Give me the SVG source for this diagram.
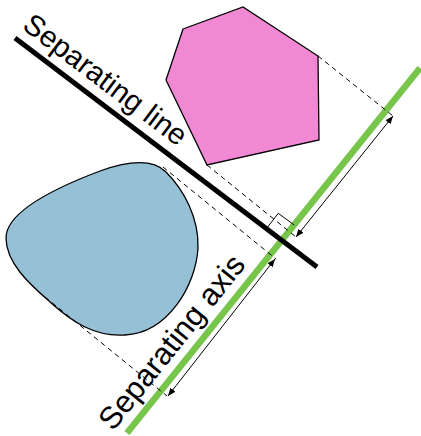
<svg xmlns="http://www.w3.org/2000/svg" width="421" height="436" viewBox="0 0 421 436">
  <style>
    .shape { stroke: #000; stroke-width: 1.3; stroke-linejoin: miter; }
    .dash { stroke: #000; stroke-width: 1; stroke-dasharray: 5 4; fill: none; }
    .arrow { stroke: #000; stroke-width: 1; fill: none; marker-start: url(#ah); marker-end: url(#ah); }
    .label { font-family: "Liberation Sans", Arial, sans-serif; fill: #000; }
  </style>
  <defs>
    <marker id="ah" viewBox="0 0 10 10" refX="10" refY="5" markerWidth="8" markerHeight="8" markerUnits="userSpaceOnUse" orient="auto-start-reverse">
      <path d="M0,1 L10,5 L0,9 Z" fill="#000"/>
    </marker>
  </defs>
  <rect width="421" height="436" fill="#fff"/>

  <g id="pink-polygon">
    <polygon class="shape" fill="#f088d4" points="183,29 243,7 318,56 319,140 207,165 166,80"/>
  </g>

  <g id="blue-blob">
    <path class="shape" fill="#96c0d6" d="M6,238 C6,212 55,188 100,171 C128,161 152,158 166,172 C184,190 199,218 198,248 C196,285 168,333 125,335 C95,337 72,322 50,302 C32,286 6,264 6,238 Z"/>
  </g>

  <g id="separating-axis">
    <line x1="127" y1="433" x2="420" y2="68" stroke="#77c54a" stroke-width="6.5"/>
    <text class="label" font-size="31" transform="translate(113,432) rotate(-51.3)">Separating axis</text>
  </g>

  <g id="separating-line">
    <line x1="15" y1="38" x2="317" y2="267" stroke="#000" stroke-width="5"/>
    <text class="label" font-size="29.5" transform="translate(21,28) rotate(37.2)">Separating line</text>
  </g>

  <g id="connectors">
    <polyline points="266.5,228.5 278.3,213.3 294.2,225" fill="none" stroke="#000" stroke-width="1"/>
    <line class="dash" x1="318" y1="56" x2="393" y2="116"/>
    <line class="dash" x1="207" y1="165" x2="296" y2="237"/>
    <line class="dash" x1="163" y1="167" x2="276" y2="259"/>
    <line class="dash" x1="45" y1="297" x2="167" y2="396"/>
    <line class="arrow" x1="296" y1="237" x2="393" y2="116"/>
    <line class="arrow" x1="168" y1="396" x2="275" y2="259"/>
  </g>
</svg>
